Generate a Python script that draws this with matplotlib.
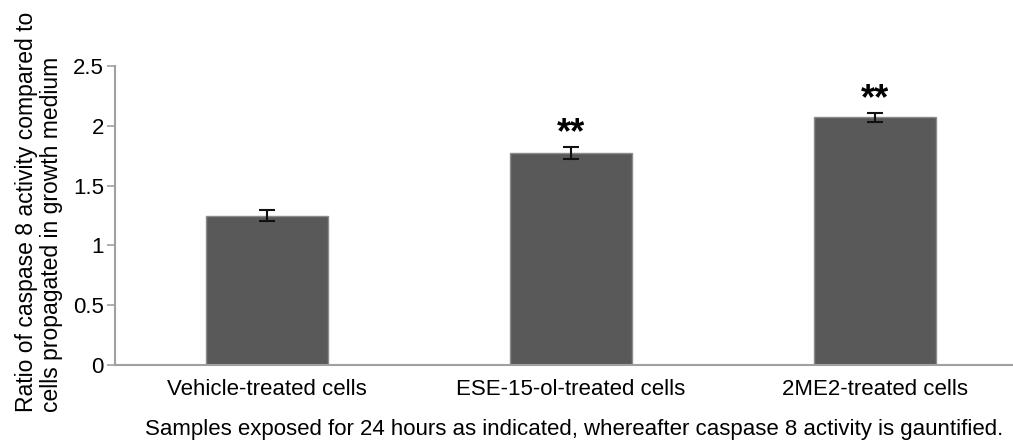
import numpy as np
import matplotlib.pyplot as plt

plt.rcParams['font.family'] = ['Liberation Sans', 'DejaVu Sans']

# caspase 8 activity relative to cells in growth medium
groups = ["Vehicle-treated cells", "ESE-15-ol-treated cells", "2ME2-treated cells"]
ratio = [1.25, 1.77, 2.07]
err = [0.05, 0.05, 0.04]
marks = ["", "**", "**"]

fig = plt.figure(figsize=(10.13, 4.41), dpi=100)
ax = fig.add_axes([0.1135, 0.1723, 0.9003, 0.678])

x = np.arange(len(groups))
ax.bar(x, ratio, width=0.4, color="#595959", edgecolor="#8c8c8c", linewidth=1.0, zorder=2)
ax.errorbar(x, ratio, yerr=err, fmt="none", ecolor="#111111", elinewidth=1.5,
            capsize=6, capthick=1.5, zorder=3)

for xi, v, e, m in zip(x, ratio, err, marks):
    if m:
        ax.annotate(m, (xi, v + e), xytext=(0, -3), textcoords="offset points",
                    ha="center", va="bottom", fontsize=26, fontweight="bold")

ax.set_xlim(-0.5, 2.5)
ax.set_ylim(0, 2.5)
ax.set_yticks([0, 0.5, 1, 1.5, 2, 2.5])
ax.set_yticklabels(["0", "0.5", "1", "1.5", "2", "2.5"])
ax.set_xticks(x)
ax.set_xticklabels(groups)
ax.tick_params(axis="y", length=6, width=1.2, color="#a0a0a0", labelsize=16, pad=2)
ax.tick_params(axis="x", length=0, labelsize=16, pad=10)

for s in ["top", "right"]:
    ax.spines[s].set_visible(False)
for s in ["left", "bottom"]:
    ax.spines[s].set_color("#a0a0a0")
    ax.spines[s].set_linewidth(1.5)

fig.text(0.0385, 0.066, "Ratio of caspase 8 activity compared to\ncells propagated in growth medium",
         rotation=90, ha="center", va="bottom", multialignment="left", fontsize=16.5,
         linespacing=1.1)
fig.text(0.5666, 0.013, "Samples exposed for 24 hours as indicated, whereafter caspase 8 activity is gauntified.",
         ha="center", va="baseline", fontsize=16)

fig.savefig("out.png", dpi=100)
